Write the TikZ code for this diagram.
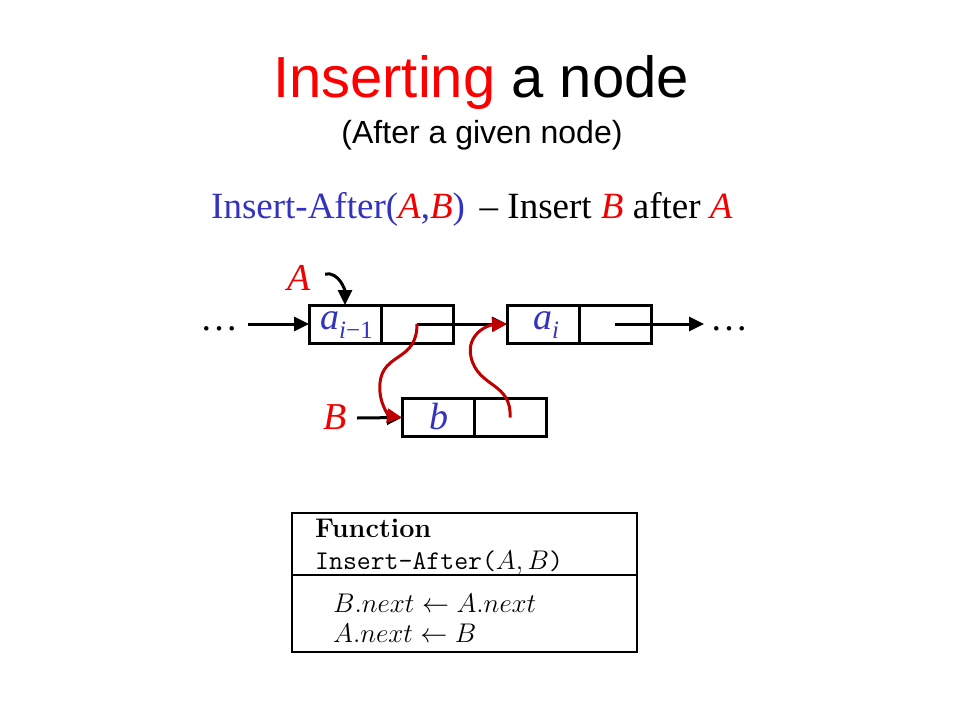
\RequirePackage{fix-cm}
\documentclass[tikz,border=0pt]{standalone}
\usepackage{fontspec}
\usetikzlibrary{arrows.meta}
\newfontfamily\arialf{Liberation Sans}
\newfontfamily\tnrf{Liberation Serif}
\definecolor{titlered}{RGB}{250,0,0}
\definecolor{lblred}{RGB}{240,0,0}
\definecolor{arrred}{RGB}{190,0,0}
\definecolor{blu}{RGB}{51,51,190}
\tikzset{
  cell/.style={draw, line width=3pt, minimum width=72pt, minimum height=38pt, inner sep=0pt, outer sep=0pt},
  ptr/.style={line width=3pt, -{Triangle[length=15pt,width=14pt]}},
  rptr/.style={line width=3pt, draw=arrred, -{Triangle[length=15pt,width=14pt]}, arrred},
  fbox/.style={draw, line width=1.2pt, minimum width=345pt, minimum height=139pt, inner sep=0pt},
}
\begin{document}
\begin{tikzpicture}[x=1pt,y=-1pt]
\useasboundingbox (0,0) rectangle (960,720);
% titles
\node[anchor=base, inner sep=0pt] (title) at (481,97) {\arialf\fontsize{58}{60}\selectfont\textcolor{titlered}{Inserting} a node};
\node[anchor=base, inner sep=0pt] (sub) at (482,143) {\arialf\fontsize{32}{34}\selectfont (After a given node)};
\node[anchor=base west, inner sep=0pt] (sig) at (211,218) {\tnrf\fontsize{37}{40}\selectfont\textcolor{blu}{Insert-After(}\textcolor{lblred}{\itshape A}\textcolor{blu}{,}\textcolor{lblred}{\itshape B}\textcolor{blu}{)}\hspace{0.4em}– Insert \textcolor{lblred}{\itshape B} after \textcolor{lblred}{\itshape A}};
% list cells
\node[cell] (b1a) at (345,324) {};
\node[cell] (b1b) at (417,324) {};
\node[cell] (a2a) at (543,324) {};
\node[cell] (a2b) at (615,324) {};
\node[cell] (ba) at (438,417.5) {};
\node[cell] (bb) at (510,417.5) {};
% cell contents
\node[anchor=base, inner sep=0pt, text=blu] (t1) at (346.5,329.5) {\tnrf\fontsize{38}{40}\selectfont\itshape a\raisebox{-8.5pt}{\fontsize{25}{25}\selectfont i\upshape −1}};
\node[anchor=base, inner sep=0pt, text=blu] (t2) at (546,329.5) {\tnrf\fontsize{38}{40}\selectfont\itshape a\raisebox{-8.5pt}{\fontsize{25}{25}\selectfont i}};
\node[anchor=base, inner sep=0pt, text=blu] (t3) at (439,429) {\tnrf\fontsize{38}{40}\selectfont\itshape b};
% dots
\node[anchor=base, inner sep=0pt] (dl) at (219,330) {\tnrf\fontsize{38}{40}\selectfont …};
\node[anchor=base, inner sep=0pt] (dr) at (729,330) {\tnrf\fontsize{38}{40}\selectfont …};
\coordinate (lin) at (248,324);
\coordinate (rout) at (704,324);
% labels
\node[inner sep=0pt, text=lblred] (Al) at (299,278) {\tnrf\fontsize{38}{40}\selectfont\itshape A};
\node[inner sep=0pt, text=lblred] (Bl) at (335,417) {\tnrf\fontsize{38}{40}\selectfont\itshape B};
\coordinate (Astart) at (325,274);
\coordinate (Bstart) at (357,418);
% black pointers
\draw[ptr] (lin) -- (b1a.west);
\draw[ptr] (b1b.center) -- (a2a.west);
\draw[ptr] (a2b.center) -- (rout);
\draw[ptr] (Astart) to[out=10,in=90] (b1a.north);
\draw[ptr] (Bstart) -- (ba.west);
% red pointers
\draw[rptr] (b1b.center) .. controls (417,362) and (383,352) .. (380,383) .. controls (378,404) and (390,416) .. (ba.west);
\draw[rptr] (bb.center) .. controls (512,382) and (478,388) .. (471,357) .. controls (466,334) and (488,325) .. (a2a.west);
% function box
\node[fbox] (fb) at (464.5,582.5) {};
\coordinate (divl) at (292,575);
\coordinate (divr) at (637,575);
\draw[line width=1.2pt] (divl) -- (divr);
\node[anchor=base west, inner sep=0pt] (f1) at (315,537) {\fontsize{27}{30}\selectfont\bfseries Function};
\node[anchor=base west, inner sep=0pt] (f2) at (315,569) {\fontsize{27}{30}\selectfont\texttt{Insert-After(}$A,B$\texttt{)}};
\node[anchor=base west, inner sep=0pt] (f3) at (333,612) {\fontsize{27}{30}\selectfont$B.next\leftarrow A.next$};
\node[anchor=base west, inner sep=0pt] (f4) at (333,642) {\fontsize{27}{30}\selectfont$A.next\leftarrow B$};
\end{tikzpicture}
\end{document}
